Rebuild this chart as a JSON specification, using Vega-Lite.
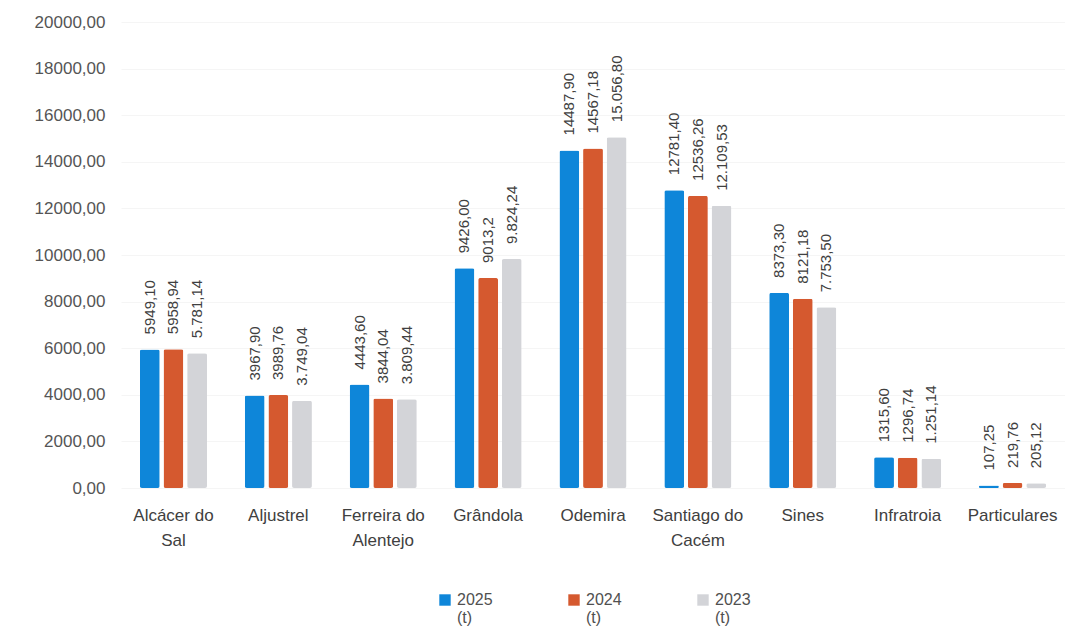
{
  "$schema": "https://vega.github.io/schema/vega-lite/v6.json",
  "width": 944,
  "height": 466,
  "autosize": {"type": "none"},
  "padding": {"left": 121, "top": 22, "right": 0, "bottom": 149},
  "background": "white",
  "config": {
    "view": {"stroke": null},
    "font": "Liberation Sans",
    "axis": {"labelFont": "Liberation Sans", "labelColor": "#555555"},
    "legend": {"labelFont": "Liberation Sans"}
  },
  "data": {
    "values": [
      {"municipio": "Alcácer do Sal", "ano": "2025 (t)", "valor": 5949.10, "rotulo": "5949,10"},
      {"municipio": "Alcácer do Sal", "ano": "2024 (t)", "valor": 5958.94, "rotulo": "5958,94"},
      {"municipio": "Alcácer do Sal", "ano": "2023 (t)", "valor": 5781.14, "rotulo": "5.781,14"},
      {"municipio": "Aljustrel", "ano": "2025 (t)", "valor": 3967.90, "rotulo": "3967,90"},
      {"municipio": "Aljustrel", "ano": "2024 (t)", "valor": 3989.76, "rotulo": "3989,76"},
      {"municipio": "Aljustrel", "ano": "2023 (t)", "valor": 3749.04, "rotulo": "3.749,04"},
      {"municipio": "Ferreira do Alentejo", "ano": "2025 (t)", "valor": 4443.60, "rotulo": "4443,60"},
      {"municipio": "Ferreira do Alentejo", "ano": "2024 (t)", "valor": 3844.04, "rotulo": "3844,04"},
      {"municipio": "Ferreira do Alentejo", "ano": "2023 (t)", "valor": 3809.44, "rotulo": "3.809,44"},
      {"municipio": "Grândola", "ano": "2025 (t)", "valor": 9426.00, "rotulo": "9426,00"},
      {"municipio": "Grândola", "ano": "2024 (t)", "valor": 9013.2, "rotulo": "9013,2"},
      {"municipio": "Grândola", "ano": "2023 (t)", "valor": 9824.24, "rotulo": "9.824,24"},
      {"municipio": "Odemira", "ano": "2025 (t)", "valor": 14487.90, "rotulo": "14487,90"},
      {"municipio": "Odemira", "ano": "2024 (t)", "valor": 14567.18, "rotulo": "14567,18"},
      {"municipio": "Odemira", "ano": "2023 (t)", "valor": 15056.80, "rotulo": "15.056,80"},
      {"municipio": "Santiago do Cacém", "ano": "2025 (t)", "valor": 12781.40, "rotulo": "12781,40"},
      {"municipio": "Santiago do Cacém", "ano": "2024 (t)", "valor": 12536.26, "rotulo": "12536,26"},
      {"municipio": "Santiago do Cacém", "ano": "2023 (t)", "valor": 12109.53, "rotulo": "12.109,53"},
      {"municipio": "Sines", "ano": "2025 (t)", "valor": 8373.30, "rotulo": "8373,30"},
      {"municipio": "Sines", "ano": "2024 (t)", "valor": 8121.18, "rotulo": "8121,18"},
      {"municipio": "Sines", "ano": "2023 (t)", "valor": 7753.50, "rotulo": "7.753,50"},
      {"municipio": "Infratroia", "ano": "2025 (t)", "valor": 1315.60, "rotulo": "1315,60"},
      {"municipio": "Infratroia", "ano": "2024 (t)", "valor": 1296.74, "rotulo": "1296,74"},
      {"municipio": "Infratroia", "ano": "2023 (t)", "valor": 1251.14, "rotulo": "1.251,14"},
      {"municipio": "Particulares", "ano": "2025 (t)", "valor": 107.25, "rotulo": "107,25"},
      {"municipio": "Particulares", "ano": "2024 (t)", "valor": 219.76, "rotulo": "219,76"},
      {"municipio": "Particulares", "ano": "2023 (t)", "valor": 205.12, "rotulo": "205,12"}
    ]
  },
  "encoding": {
    "x": {
      "field": "municipio",
      "type": "nominal",
      "sort": null,
      "scale": {"paddingInner": 0.36, "paddingOuter": 0.18},
      "axis": {
        "title": null,
        "domain": false,
        "ticks": false,
        "labelAngle": 0,
        "labelFontSize": 17,
        "labelColor": "#404040",
        "labelPadding": 19,
        "labelLineHeight": 25,
        "labelExpr": "datum.label == 'Alcácer do Sal' ? ['Alcácer do', 'Sal'] : datum.label == 'Ferreira do Alentejo' ? ['Ferreira do', 'Alentejo'] : datum.label == 'Santiago do Cacém' ? ['Santiago do', 'Cacém'] : datum.label"
      }
    },
    "xOffset": {
      "field": "ano",
      "type": "nominal",
      "sort": ["2025 (t)", "2024 (t)", "2023 (t)"],
      "scale": {"paddingInner": 0.16}
    },
    "y": {
      "field": "valor",
      "type": "quantitative",
      "scale": {"domain": [0, 20000]},
      "axis": {
        "title": null,
        "domain": false,
        "ticks": false,
        "values": [0, 2000, 4000, 6000, 8000, 10000, 12000, 14000, 16000, 18000, 20000],
        "labelFontSize": 17,
        "labelPadding": 16,
        "gridColor": "#F5F5F5",
        "labelExpr": "replace(format(datum.value, '.2f'), '.', ',')"
      }
    }
  },
  "layer": [
    {
      "mark": {"type": "bar", "cornerRadius": 2},
      "encoding": {
        "color": {
          "field": "ano",
          "type": "nominal",
          "sort": ["2025 (t)", "2024 (t)", "2023 (t)"],
          "scale": {"domain": ["2025 (t)", "2024 (t)", "2023 (t)"], "range": ["#0E86D9", "#D5592F", "#D3D4D8"]},
          "legend": {
            "title": null,
            "orient": "none",
            "legendX": 316,
            "legendY": 570,
            "direction": "horizontal",
            "symbolType": "square",
            "symbolSize": 130,
            "symbolStrokeWidth": 0,
            "labelFontSize": 16,
            "labelColor": "#505050",
            "labelOffset": 4,
            "labelLineHeight": 25,
            "columnPadding": 73,
            "labelExpr": "split(datum.label, ' ')"
          }
        }
      }
    },
    {
      "mark": {"type": "text", "angle": 270, "align": "left", "baseline": "middle", "dx": 15, "fontSize": 15, "color": "#404040"},
      "encoding": {"text": {"field": "rotulo"}}
    }
  ]
}
